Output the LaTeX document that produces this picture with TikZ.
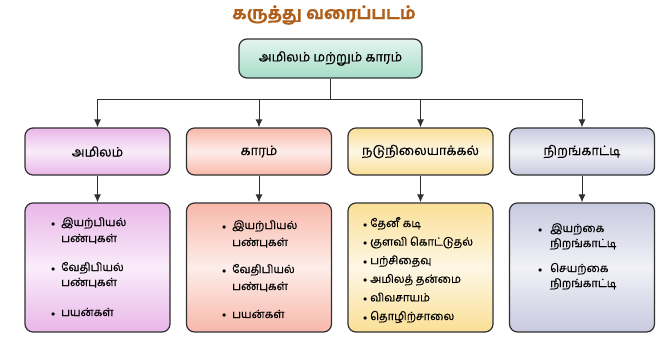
\documentclass[tikz,border=0pt]{standalone}
\usepackage{fontspec}
\setmainfont[Script=Tamil,FakeBold=0.5,BoldFont={Hind Madurai Bold},BoldFeatures={FakeBold=0.3}]{Hind Madurai}
\usepackage{tikz}
\usetikzlibrary{arrows.meta,positioning,calc}
\usepackage{xcolor}

\definecolor{tealc}{HTML}{A6DCC8}
\definecolor{pinkc}{HTML}{E9B6E9}
\definecolor{salmc}{HTML}{F8B8AA}
\definecolor{yelc}{HTML}{FADF96}
\definecolor{lavc}{HTML}{C8C9DF}
\definecolor{titlec}{HTML}{B0601A}
\definecolor{linec}{HTML}{303030}

\newcommand{\itembul}[1]{\makebox[#1][l]{\fontsize{8}{8}\selectfont$\bullet$}}

\begin{document}
\begin{tikzpicture}[
  x=1pt, y=-1pt,
  >={Latex[length=8pt,width=7pt]},
  box/.style={draw=linec, line width=1.2pt, rounded corners=8pt, align=center,
    minimum width=145pt, inner sep=2pt, font=\fontsize{13}{15}\selectfont},
  head/.style={box, minimum height=47pt},
  list/.style={box, minimum height=129pt},
  tint/.style={top color=#1, bottom color=#1, middle color=#1!25},
  items/.style={anchor=base west, inner sep=0pt, align=left, font=\fontsize{11.2}{16}\selectfont},
  arr/.style={->, line width=1pt, draw=linec}
]
\useasboundingbox (0,0) rectangle (665,337);
\node[font=\fontsize{17}{19}\selectfont\bfseries, text=titlec] (title) at (324,15) {கருத்து வரைப்படம்};

\node[box, minimum width=183pt, minimum height=39pt, top color=tealc!30, bottom color=tealc] (main) at (330.5,58.5) {அமிலம் மற்றும் காரம்};
\coordinate (hub) at (330.5,100);

\node[head, tint=pinkc] (acid) at (97.5,151.5) {அமிலம்};
\node[head, tint=salmc] (base) at (259,151.5) {காரம்};
\node[head, tint=yelc] (neut) at (420.5,151.5) {நடுநிலையாக்கல்};
\node[head, tint=lavc] (ind) at (582,151.5) {நிறங்காட்டி};

\node[list, tint=pinkc] (acidl) at (97.5,267.5) {};
\node[list, tint=salmc] (basel) at (259,267.5) {};
\node[list, tint=yelc] (neutl) at (420.5,267.5) {};
\node[list, tint=lavc] (indl) at (582,267.5) {};

% item lists inside the lower boxes
\node[items] (acidt) at (51,226) {\begin{tabular}[t]{@{}l@{}l@{}}
  \itembul{10pt} & இயற்பியல்\\[0pt] & பண்புகள்\\[13pt]
  \itembul{10pt} & வேதிபியல்\\[-1pt] & பண்புகள்\\[14pt]
  \itembul{10pt} & பயன்கள்\end{tabular}};
\node[items] (baset) at (222,229) {\begin{tabular}[t]{@{}l@{}l@{}}
  \itembul{10pt} & இயற்பியல்\\[1pt] & பண்புகள்\\[11pt]
  \itembul{10pt} & வேதிபியல்\\[1pt] & பண்புகள்\\[12pt]
  \itembul{10pt} & பயன்கள்\end{tabular}};
\node[items] (neutt) at (363,227) {\begin{tabular}[t]{@{}l@{}l@{}}
  \itembul{7pt} & தேனீ கடி\\[2.6pt]
  \itembul{7pt} & குளவி கொட்டுதல்\\[2.6pt]
  \itembul{7pt} & பற்சிதைவு\\[2.6pt]
  \itembul{7pt} & அமிலத் தன்மை\\[2.6pt]
  \itembul{7pt} & விவசாயம்\\[2.6pt]
  \itembul{7pt} & தொழிற்சாலை\end{tabular}};
\node[items] (indt) at (538,232) {\begin{tabular}[t]{@{}l@{}l@{}}
  \itembul{12pt} & இயற்கை\\[-1pt] & நிறங்காட்டி\\[9pt]
  \itembul{12pt} & செயற்கை\\[-1pt] & நிறங்காட்டி\end{tabular}};

\draw[line width=1pt, draw=linec] (main.south) -- (hub);
\draw[arr] (hub) -| (acid.north);
\draw[arr] (hub) -| (base.north);
\draw[arr] (hub) -| (neut.north);
\draw[arr] (hub) -| (ind.north);

\draw[arr] (acid) -- (acidl);
\draw[arr] (base) -- (basel);
\draw[arr] (neut) -- (neutl);
\draw[arr] (ind) -- (indl);
\end{tikzpicture}
\end{document}
